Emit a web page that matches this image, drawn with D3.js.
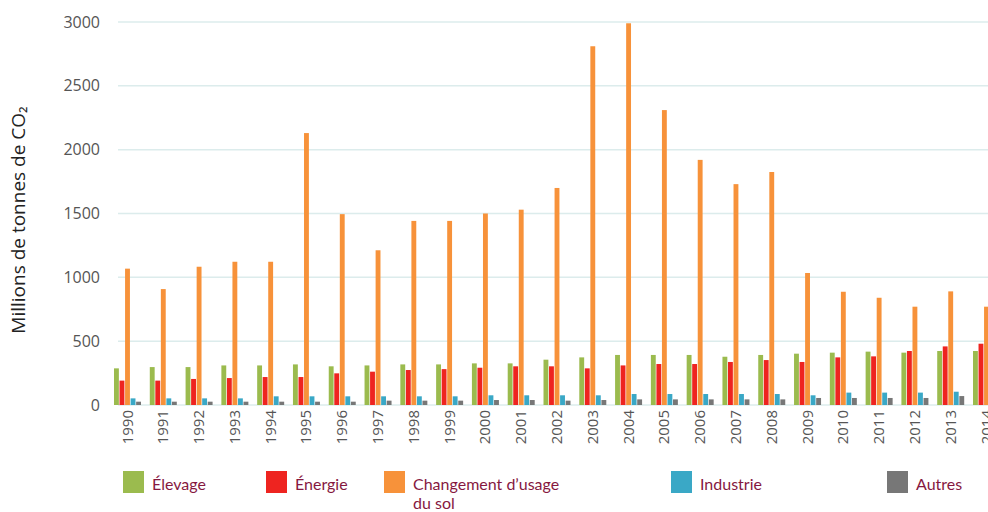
<!DOCTYPE html>
<html><head><meta charset="utf-8">
<script src="https://cdn.jsdelivr.net/npm/d3@7"></script>
<style>body{margin:0;background:#fff}svg{display:block}</style>
</head><body><svg id="c" width="988" height="512"></svg>
<script>
const years = ["1990","1991","1992","1993","1994","1995","1996","1997","1998","1999","2000","2001","2002","2003","2004","2005","2006","2007","2008","2009","2010","2011","2012","2013","2014"];
const seriesNames = ["Élevage","Énergie","Changement d’usage du sol","Industrie","Autres"];
const elevage = [287,297,297,310,310,318,303,310,318,318,326,326,355,373,392,392,392,378,392,402,410,418,410,423,423];
const energie = [191,191,204,211,219,219,248,261,274,281,292,303,303,287,310,321,321,337,352,337,373,381,423,459,480];
const changement = [1068,908,1083,1122,1122,2130,1495,1212,1442,1442,1500,1530,1700,2810,2990,2310,1920,1730,1825,1034,887,840,770,890,770];
const industrie = [52,52,52,52,68,68,68,68,68,68,76,76,76,76,86,86,86,86,86,76,97,97,97,104,104];
const autres = [26,26,26,26,26,26,26,34,34,34,39,39,34,39,44,44,44,44,44,55,55,55,55,70,70];
const yTicks = [0,500,1000,1500,2000,2500,3000];
const colors = ["#9bbb4e","#ee2420","#f7923a","#3aa8c6","#777777"];
const allSeries = [elevage, energie, changement, industrie, autres];

const svg = d3.select("#c");
const y = d3.scaleLinear().domain([0,3000]).range([405,22]);
const x = d3.scalePoint().domain(years).range([127.5,986.5]);
const xi = d3.scaleBand().domain(d3.range(5)).range([-13.5,13.5]).paddingInner(0.12);

// gridlines
svg.append("g").selectAll("line").data(yTicks).join("line")
  .attr("x1",118).attr("x2",988)
  .attr("y1",d=>y(d)).attr("y2",d=>y(d))
  .attr("stroke","#dcecec").attr("stroke-width",1.5);

// y axis labels
const yAxis = d3.axisLeft(y).tickValues(yTicks).tickFormat(d3.format("d")).tickSize(0).tickPadding(0);
const ga = svg.append("g").attr("transform","translate(100,0)").call(yAxis);
ga.select(".domain").remove();
ga.selectAll("text").attr("font-family","Open Sans").attr("font-size",16).attr("fill","#555");

// y title
svg.append("text").attr("transform","translate(25,220) rotate(-90)")
  .attr("text-anchor","middle").attr("font-family","Open Sans").attr("font-size",19).attr("fill","#222")
  .text("Millions de tonnes de CO₂");

// bars
const groups = svg.append("g").selectAll("g").data(years).join("g")
  .attr("transform",d=>`translate(${x(d)},0)`);
groups.selectAll("rect").data((d,i)=>allSeries.map((s,k)=>({k,v:s[i]}))).join("rect")
  .attr("x",d=>xi(d.k)).attr("width",xi.bandwidth())
  .attr("y",d=>y(d.v)).attr("height",d=>y(0)-y(d.v))
  .attr("fill",d=>colors[d.k]);

// x labels
svg.append("g").selectAll("text").data(years).join("text")
  .attr("transform",d=>`translate(${x(d)+5},410) rotate(-90)`)
  .attr("text-anchor","end").attr("font-family","Open Sans").attr("font-size",15).attr("fill","#555")
  .text(d=>d);

// legend
const legendX = [123,266,384,671,887];
const leg = svg.append("g").selectAll("g").data(seriesNames).join("g")
  .attr("transform",(d,i)=>`translate(${legendX[i]},471)`);
leg.append("rect").attr("width",21).attr("height",22).attr("fill",(d,i)=>colors[i]);
const lt = leg.append("text").attr("x",29).attr("y",19)
  .attr("font-family","Lato").attr("font-size",16).attr("fill","#86183f");
lt.each(function(d){
  const t = d3.select(this);
  if (d.startsWith("Changement")) {
    t.append("tspan").attr("x",29).text("Changement d’usage");
    t.append("tspan").attr("x",29).attr("dy",19).text("du sol");
  } else t.text(d);
});
</script></body></html>
